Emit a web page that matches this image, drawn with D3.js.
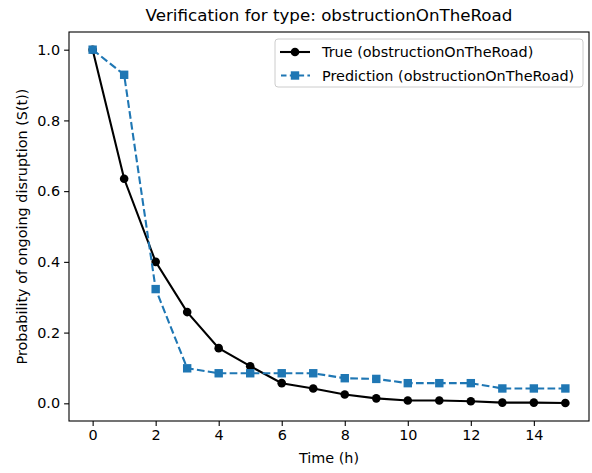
<!DOCTYPE html>
<html>
<head>
<meta charset="utf-8">
<script src="https://cdn.jsdelivr.net/npm/d3@7"></script>
<style>
  body { margin: 0; background: #fff; }
  text { font-family: "DejaVu Sans", sans-serif; fill: #000; }
</style>
</head>
<body>
<svg id="chart" width="592" height="473"></svg>
<script>
// values
const times = [0, 1, 2, 3, 4, 5, 6, 7, 8, 9, 10, 11, 12, 13, 14, 15];
const trueVals = [1.0, 0.635, 0.40, 0.258, 0.156, 0.105, 0.057, 0.042, 0.025, 0.014, 0.008, 0.008, 0.006, 0.002, 0.002, 0.001];
const predVals = [1.0, 0.929, 0.323, 0.099, 0.085, 0.085, 0.085, 0.085, 0.071, 0.069, 0.057, 0.057, 0.057, 0.042, 0.042, 0.042];
const xTicks = [0, 2, 4, 6, 8, 10, 12, 14];
const yTicks = [0.0, 0.2, 0.4, 0.6, 0.8, 1.0];
const typeName = "obstructionOnTheRoad";

const svg = d3.select("#chart");
const plotLeft = 69, plotRight = 589, plotTop = 32, plotBottom = 421;
const fs = "14.4px";

let x = d3.scaleLinear().domain([-0.75, 15.75]).range([plotLeft, plotRight]);
let y = d3.scaleLinear().domain([-0.05, 1.05]).range([plotBottom, plotTop]);

// axes
let xAxis = svg.append("g")
  .attr("transform", "translate(0," + plotBottom + ")")
  .call(d3.axisBottom(x).tickValues(xTicks).tickSize(4.9).tickPadding(4).tickFormat(d3.format("d")));
let yAxis = svg.append("g")
  .attr("transform", "translate(" + plotLeft + ",0)")
  .call(d3.axisLeft(y).tickValues(yTicks).tickSize(4.9).tickPadding(4).tickFormat(d3.format(".1f")));
[xAxis, yAxis].forEach(function(a) {
  a.select(".domain").remove();
  a.selectAll("line").attr("stroke", "#000").attr("stroke-width", 1.1);
  a.selectAll("text").style("font-size", fs).style("font-family", "DejaVu Sans").attr("fill", "#000");
});

// frame
svg.append("rect")
  .attr("x", plotLeft).attr("y", plotTop)
  .attr("width", plotRight - plotLeft).attr("height", plotBottom - plotTop)
  .attr("fill", "none").attr("stroke", "#000").attr("stroke-width", 1.1);

let line = d3.line()
  .x(function(d, i) { return x(times[i]); })
  .y(function(d) { return y(d); });

// true series
svg.append("path")
  .attr("d", line(trueVals))
  .attr("fill", "none").attr("stroke", "#000").attr("stroke-width", 2.1);
svg.append("g").selectAll("circle")
  .data(trueVals).enter().append("circle")
  .attr("cx", function(d, i) { return x(times[i]); })
  .attr("cy", function(d) { return y(d); })
  .attr("r", 4.3).attr("fill", "#000");

// prediction series
svg.append("path")
  .attr("d", line(predVals))
  .attr("fill", "none").attr("stroke", "#1f77b4").attr("stroke-width", 2.1)
  .attr("stroke-dasharray", "7.7,3.3");
svg.append("g").selectAll("rect")
  .data(predVals).enter().append("rect")
  .attr("x", function(d, i) { return x(times[i]) - 4.2; })
  .attr("y", function(d) { return y(d) - 4.2; })
  .attr("width", 8.4).attr("height", 8.4).attr("fill", "#1f77b4");

// title and labels
svg.append("text")
  .attr("x", (plotLeft + plotRight) / 2).attr("y", 21)
  .attr("text-anchor", "middle").style("font-size", "16.7px")
  .text("Verification for type: " + typeName);
svg.append("text")
  .attr("x", (plotLeft + plotRight) / 2).attr("y", 463)
  .attr("text-anchor", "middle").style("font-size", fs)
  .text("Time (h)");
svg.append("text")
  .attr("transform", "translate(27," + ((plotTop + plotBottom) / 2) + ") rotate(-90)")
  .attr("text-anchor", "middle").style("font-size", fs)
  .text("Probability of ongoing disruption (S(t))");

// legend
let lg = svg.append("g").attr("transform", "translate(275,39)");
lg.append("rect")
  .attr("x", 0).attr("y", 0).attr("width", 308).attr("height", 48).attr("rx", 3)
  .attr("fill", "#fff").attr("fill-opacity", 0.8)
  .attr("stroke", "#ccc").attr("stroke-width", 1);
let entries = [
  { label: "True (" + typeName + ")", color: "#000", dash: null, shape: "circle" },
  { label: "Prediction (" + typeName + ")", color: "#1f77b4", dash: "7.7,3.3", shape: "square" }
];
entries.forEach(function(e, i) {
  let cy = 13 + i * 23.5;
  lg.append("line")
    .attr("x1", 5).attr("x2", 35).attr("y1", cy).attr("y2", cy)
    .attr("stroke", e.color).attr("stroke-width", 2.1)
    .attr("stroke-dasharray", e.dash ? "5.5,3.3" : null)
    .attr("stroke-dashoffset", e.dash ? -1 : null);
  if (e.shape === "circle") {
    lg.append("circle").attr("cx", 20).attr("cy", cy).attr("r", 4.3).attr("fill", e.color);
  } else {
    lg.append("rect").attr("x", 15.8).attr("y", cy - 4.2).attr("width", 8.4).attr("height", 8.4).attr("fill", e.color);
  }
  lg.append("text")
    .attr("x", 47).attr("y", cy + 5).style("font-size", fs)
    .text(e.label);
});
</script>
</body>
</html>
